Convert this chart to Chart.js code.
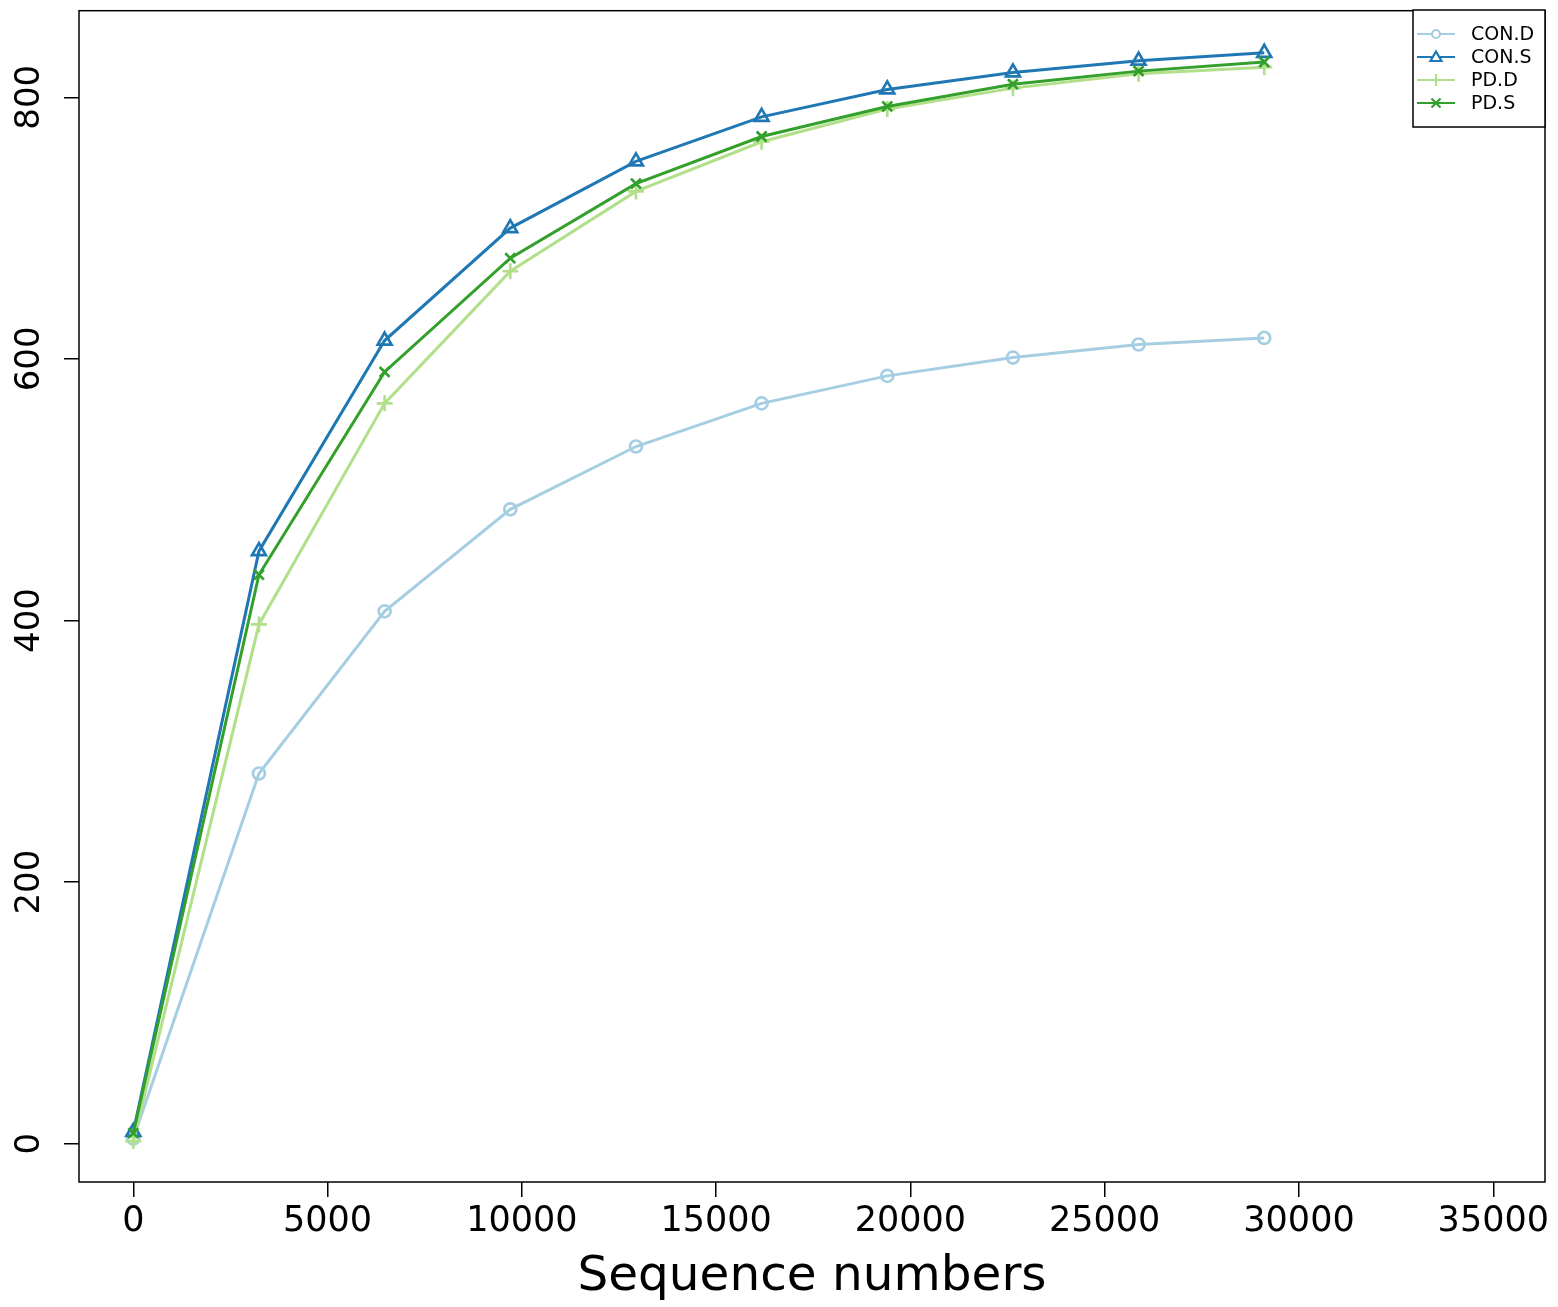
<!DOCTYPE html>
<html>
<head>
<meta charset="utf-8">
<script src="https://cdn.jsdelivr.net/npm/chart.js@4/dist/chart.umd.min.js"></script>
<style>
  html, body { margin: 0; padding: 0; background: #fff; }
  #wrap { width: 1558px; height: 1307px; }
</style>
</head>
<body>
<div id="wrap"><canvas id="myChart" width="1558" height="1307"></canvas></div>
<script>
'use strict';

// sequence depth (x) for every sample point
var seqNumbers = [0, 3234, 6468, 9702, 12936, 16170, 19404, 22638, 25872, 29106];

// observed OTUs per group
var conD = [4, 283, 407, 485, 533, 566, 587, 601, 611, 616];
var conS = [9, 453, 614, 700, 751, 785, 806, 819, 828, 834];
var pdD  = [2, 397, 566, 667, 728, 766, 791, 807, 818, 823];
var pdS  = [8, 435, 590, 677, 734, 770, 793, 810, 820, 827];

var seriesNames = ['CON.D', 'CON.S', 'PD.D', 'PD.S'];
var seriesColors = ['#A6CEE3', '#1F78B4', '#B2DF8A', '#33A02C'];

var xTicks = [0, 5000, 10000, 15000, 20000, 25000, 30000, 35000];
var yTicks = [0, 200, 400, 600, 800];

var FONT = "'DejaVu Sans', sans-serif";

function toPoints(ys) {
  return seqNumbers.map(function (x, i) { return { x: x, y: ys[i] }; });
}

function makeSet(idx, ys, style, radius, order) {
  return {
    label: seriesNames[idx],
    data: toPoints(ys),
    borderColor: seriesColors[idx],
    backgroundColor: seriesColors[idx],
    borderWidth: 3,
    tension: 0,
    pointStyle: style,
    pointRadius: radius,
    pointBorderWidth: 2.7,
    pointBackgroundColor: 'rgba(255,255,255,0)',
    pointBorderColor: seriesColors[idx],
    order: order
  };
}

// small legend marker, drawn by hand
function legendMark(c, kind, x, y) {
  c.beginPath();
  if (kind === 'circle') {
    c.arc(x, y, 4, 0, Math.PI * 2);
  } else if (kind === 'triangle') {
    c.moveTo(x, y - 5.5);
    c.lineTo(x + 5.5, y + 4);
    c.lineTo(x - 5.5, y + 4);
    c.closePath();
  } else if (kind === 'plus') {
    c.moveTo(x - 6, y); c.lineTo(x + 6, y);
    c.moveTo(x, y - 6); c.lineTo(x, y + 6);
  } else {
    c.moveTo(x - 4.5, y - 4.5); c.lineTo(x + 4.5, y + 4.5);
    c.moveTo(x + 4.5, y - 4.5); c.lineTo(x - 4.5, y + 4.5);
  }
  c.stroke();
}

// box round the plot + rotated y labels + legend like R
var rBox = {
  id: 'rBox',
  afterDraw: function (chart) {
    var c = chart.ctx;
    var a = chart.chartArea;
    c.save();
    c.strokeStyle = '#000';
    c.lineWidth = 1.5;
    c.strokeRect(a.left, a.top, a.right - a.left, a.bottom - a.top);

    // y tick labels, turned like R las=0
    var ys = chart.scales.y;
    c.fillStyle = '#000';
    c.font = '34px ' + FONT;
    c.textAlign = 'center';
    c.textBaseline = 'middle';
    yTicks.forEach(function (v) {
      var py = ys.getPixelForValue(v);
      c.save();
      c.translate(30, py);
      c.rotate(-Math.PI / 2);
      c.fillText(String(v), 0, 0);
      c.restore();
    });

    // legend
    var lx = 1413, ly = 10, lw = 132, lh = 117;
    c.fillStyle = '#fff';
    c.fillRect(lx, ly, lw, lh);
    c.strokeStyle = '#000';
    c.lineWidth = 1.5;
    c.strokeRect(lx, ly, lw, lh);
    var rows = [34, 57, 80, 103];
    var kinds = ['circle', 'triangle', 'plus', 'x'];
    for (var i = 0; i < seriesNames.length; i++) {
      var y = rows[i];
      c.strokeStyle = seriesColors[i];
      c.lineWidth = 2.2;
      c.beginPath();
      c.moveTo(1417, y);
      c.lineTo(1455, y);
      c.stroke();
      c.fillStyle = '#fff';
      if (kinds[i] === 'circle' || kinds[i] === 'triangle') {
        c.beginPath();
        c.arc(1436, y, 4, 0, Math.PI * 2);
        c.fill();
      }
      legendMark(c, kinds[i], 1436, y);
    }
    c.fillStyle = '#000';
    c.font = "19px 'DejaVu Sans'";
    c.textAlign = 'left';
    c.textBaseline = 'middle';
    for (var j = 0; j < seriesNames.length; j++) {
      c.fillText(seriesNames[j], 1471, rows[j] + 1);
    }
    c.restore();
  }
};

var ctx = document.getElementById('myChart');

var myChart = new Chart(ctx, {
  type: 'line',
  data: {
    datasets: [
      makeSet(0, conD, 'circle', 6, 4),
      makeSet(1, conS, 'triangle', 8, 3),
      makeSet(2, pdD, 'cross', 8, 2),
      makeSet(3, pdS, 'crossRot', 7, 1)
    ]
  },
  options: {
    responsive: false,
    animation: false,
    layout: { padding: { top: 10, right: 13, left: 0, bottom: 0 } },
    plugins: {
      legend: { display: false },
      tooltip: { enabled: false }
    },
    scales: {
      x: {
        type: 'linear',
        min: -1397,
        max: 36331,
        afterBuildTicks: function (scale) {
          scale.ticks = xTicks.map(function (v) { return { value: v }; });
        },
        afterFit: function (scale) { scale.height = 125; },
        border: { display: false },
        grid: { drawOnChartArea: false, drawTicks: true, tickLength: 15, color: '#000', lineWidth: 1.5 },
        ticks: {
          color: '#000',
          font: { family: FONT, size: 35 },
          padding: 4,
          maxRotation: 0,
          autoSkip: false,
          callback: function (v) { return String(v); }
        },
        title: {
          display: true,
          text: 'Sequence numbers',
          color: '#000',
          font: { family: FONT, size: 48.5 },
          padding: { top: 0, bottom: 0 }
        }
      },
      y: {
        type: 'linear',
        min: -29.3,
        max: 866.2,
        afterBuildTicks: function (scale) {
          scale.ticks = yTicks.map(function (v) { return { value: v }; });
        },
        afterFit: function (scale) { scale.width = 79; },
        border: { display: false },
        grid: { drawOnChartArea: false, drawTicks: true, tickLength: 15, color: '#000', lineWidth: 1.5 },
        ticks: { display: false }
      }
    }
  },
  plugins: [rBox]
});
</script>
</body>
</html>
